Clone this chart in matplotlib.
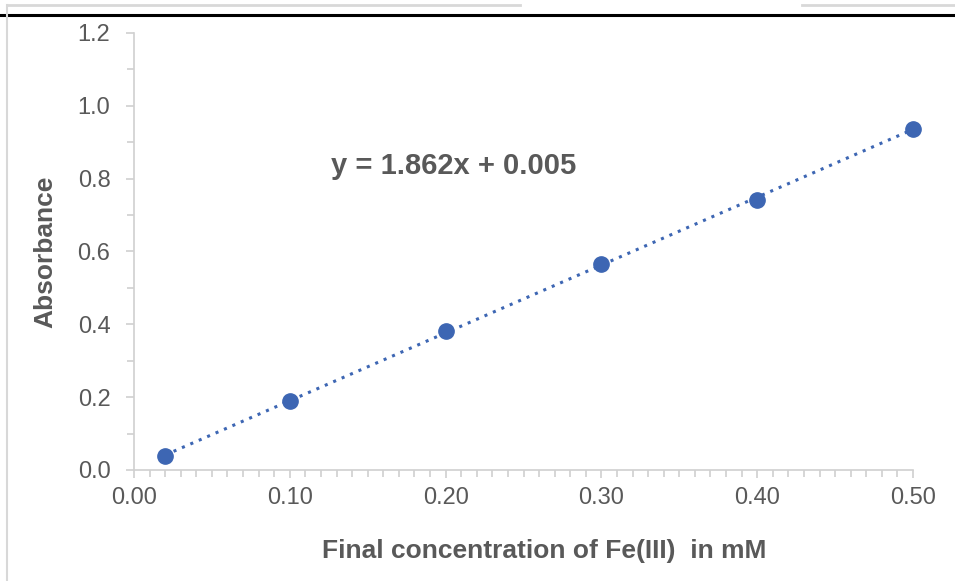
import numpy as np
import matplotlib
matplotlib.use("Agg")
import matplotlib.pyplot as plt
from matplotlib.ticker import MultipleLocator, FormatStrFormatter
from matplotlib.lines import Line2D

plt.rcParams['font.family'] = ['Liberation Sans', 'DejaVu Sans']

conc = [0.02, 0.10, 0.20, 0.30, 0.40, 0.50]
absorb = [0.038, 0.190, 0.382, 0.566, 0.742, 0.937]
equation = "y = 1.862x + 0.005"
xlabel = "Final concentration of Fe(III)  in mM"
ylabel = "Absorbance"

W, H = 955, 581
fig = plt.figure(figsize=(W / 100, H / 100), dpi=100)
ax = fig.add_axes([134 / W, (H - 470) / H, (913 - 134) / W, (470 - 33) / H])

col = '#3D66B3'
grey = '#595959'
axc = '#D0D0D0'

# trendline from least squares fit
p = np.polyfit(conc, absorb, 1)
xs = np.array([min(conc), max(conc)])
ax.plot(xs, np.polyval(p, xs), linestyle=(0, (1, 2)), color=col, lw=2.2, zorder=2, clip_on=False)
ax.plot(conc, absorb, 'o', color=col, ms=11, zorder=3, clip_on=False)

ax.set_xlim(0, 0.5)
ax.set_ylim(0, 1.2)
ax.xaxis.set_major_locator(MultipleLocator(0.1))
ax.xaxis.set_minor_locator(MultipleLocator(0.01))
ax.yaxis.set_major_locator(MultipleLocator(0.2))
ax.yaxis.set_minor_locator(MultipleLocator(0.1))
ax.xaxis.set_major_formatter(FormatStrFormatter('%.2f'))
ax.yaxis.set_major_formatter(FormatStrFormatter('%.1f'))

for s in ['top', 'right']:
    ax.spines[s].set_visible(False)
for s in ['left', 'bottom']:
    ax.spines[s].set_color(axc)
    ax.spines[s].set_linewidth(1.2)
ax.tick_params(which='both', direction='out', color=axc, width=1.2, labelcolor=grey, labelsize=17)
ax.tick_params(axis='x', which='major', length=6, pad=6)
ax.tick_params(axis='y', which='major', length=6, pad=11)
ax.tick_params(which='minor', length=5)

ax.set_xlabel(xlabel, fontsize=19, fontweight='bold', color=grey)
ax.xaxis.set_label_coords(0.526, -0.158)
ax.set_ylabel(ylabel, fontsize=19, fontweight='bold', color=grey)
ax.yaxis.set_label_coords(-0.098, 0.5)

ax.text(0.1265, 0.835, equation, fontsize=21, fontweight='bold', color=grey,
        ha='left', va='center')

# screenshot frame decorations
fig.add_artist(Line2D([0, 1], [1 - 14.5 / H, 1 - 14.5 / H], color='black', lw=2.2, transform=fig.transFigure))
fig.add_artist(Line2D([7 / W, 520 / W], [1 - 5 / H, 1 - 5 / H], color='#D8D8D8', lw=2, transform=fig.transFigure))
fig.add_artist(Line2D([802 / W, 1], [1 - 5 / H, 1 - 5 / H], color='#D8D8D8', lw=2, transform=fig.transFigure))
fig.add_artist(Line2D([7 / W, 7 / W], [1 - 5 / H, 0], color='#D8D8D8', lw=1.5, transform=fig.transFigure))

fig.savefig('out.png', dpi=100)
